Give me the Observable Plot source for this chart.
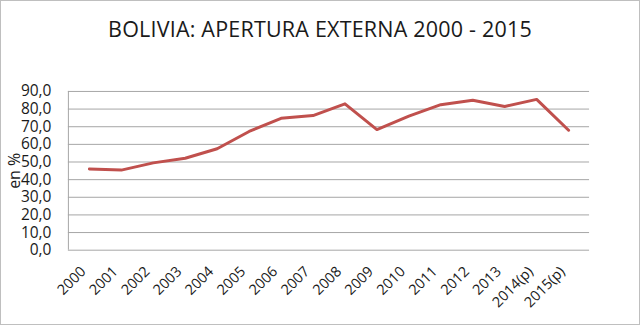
<!DOCTYPE html>
<html><head><meta charset="utf-8">
<script src="https://cdn.jsdelivr.net/npm/d3@7"></script>
<script src="https://cdn.jsdelivr.net/npm/@observablehq/plot@0.6"></script>
<style>
html,body{margin:0;padding:0;background:#fff;}
#wrap{position:relative;width:638px;height:323px;border:1px solid #bfbfbf;overflow:hidden;font-family:"Open Sans","Liberation Sans",sans-serif;}
#title{position:absolute;left:0;top:13px;width:638px;text-align:center;font-size:21.5px;color:#1a1a1a;letter-spacing:0.2px;}
#chart{position:absolute;left:-1px;top:59px;}
</style></head>
<body><div id="wrap"><div id="title">BOLIVIA: APERTURA EXTERNA 2000 - 2015</div><div id="chart"></div></div>
<script>
const years = ["2000","2001","2002","2003","2004","2005","2006","2007","2008","2009","2010","2011","2012","2013","2014(p)","2015(p)"];
const values = [46.0,45.4,49.5,52.1,57.5,67.3,74.8,76.3,83.0,68.4,76.0,82.5,85.0,81.5,85.5,68.0];
const yTicks = [0,10,20,30,40,50,60,70,80,90];
const data = years.map((y,i)=>({year:y, value:values[i]}));
const fmt = d => d.toFixed(1).replace(".", ",");
const mL = 68;
const chart = Plot.plot({
  width: 640, height: 265,
  marginLeft: mL, marginRight: 50, marginTop: 31, marginBottom: 75,
  style: {fontFamily: '"Open Sans","Liberation Sans",sans-serif', fontSize: "13px", color: "#1a1a1a", background: "transparent"},
  x: {type: "band", domain: years, padding: 0, label: null},
  y: {domain: [0, 90], label: null},
  marks: [
    Plot.gridY(yTicks, {stroke: "#a6a6a6", strokeOpacity: 1, strokeWidth: 1}),
    Plot.axisY(yTicks, {tickSize: 0, tickPadding: 17, tickFormat: fmt, fontSize: 15.5, fill: "#1a1a1a"}),
    Plot.axisX({tickSize: 0, tickRotate: -45, tickPadding: 19, dx: -6, fontSize: 14.5, fill: "#1a1a1a"}),
    Plot.line(data, {x: "year", y: "value", stroke: "#c0504d", strokeWidth: 3, strokeLinejoin: "round"}),
    Plot.text(["en %"], {frameAnchor: "left", textAnchor: "middle", dx: -54, rotate: -90, fontSize: 16, fill: "#1a1a1a"})
  ]
});
document.getElementById("chart").appendChild(chart);
// left border of the plot area
d3.select(chart).append("line")
  .attr("x1", mL + 0.5).attr("x2", mL + 0.5)
  .attr("y1", 31).attr("y2", 265 - 75)
  .attr("stroke", "#a6a6a6");
</script>
</body></html>
